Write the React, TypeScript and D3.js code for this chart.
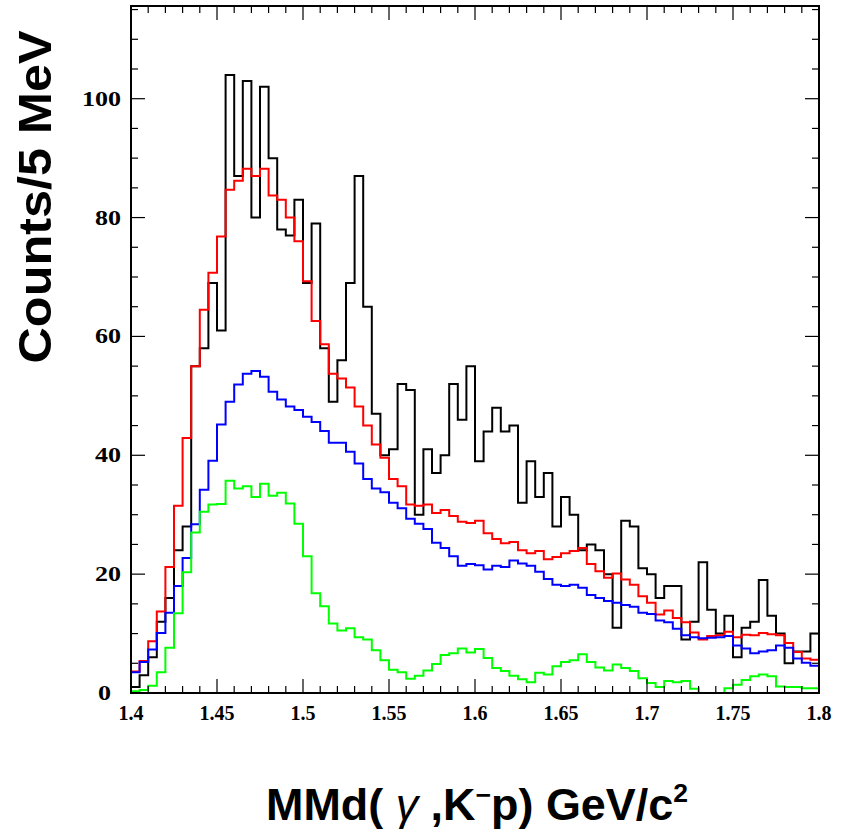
import React from "react";
import * as d3 from "d3";

const binEdgesStart = 1.4;
const binWidth = 0.005;

const dataTotal = [1, 3, 6, 12, 16, 24, 28, 55, 58, 69, 61, 104, 87, 103, 80, 102, 90, 78, 77, 83,
  69, 79, 58, 49, 56, 69, 87, 65, 47, 40, 41, 52, 51, 30, 41, 37, 40, 52, 46, 55,
  39, 44, 48, 44, 45, 32, 39, 33, 37, 28, 33, 30, 24, 25, 24, 20, 11, 29, 28, 21,
  20, 16, 18, 18, 9, 12, 22, 14, 10, 13, 6, 11, 12, 19, 13, 10, 5, 7, 7, 10];

const fitSum = [3.6, 5.4, 8.7, 13.7, 21.2, 31.5, 42.9, 55.0, 64.5, 70.7, 76.8, 84.7, 86.2, 88.2, 87.0, 88.2, 83.7, 83.0, 80.0, 76.0,
  69.3, 62.6, 58.7, 53.7, 52.9, 51.4, 48.2, 45.0, 41.8, 39.6, 36.0, 34.8, 31.7, 31.5, 31.7, 30.3, 30.8, 29.8, 28.8, 28.6,
  29.0, 26.9, 25.9, 25.2, 25.4, 24.0, 23.5, 23.9, 22.5, 22.9, 23.5, 23.9, 24.4, 21.7, 20.5, 19.4, 20.1, 19.1, 18.2, 16.3,
  15.2, 13.2, 13.9, 12.6, 11.9, 10.2, 9.0, 9.6, 9.7, 10.3, 9.4, 9.8, 9.7, 10.1, 9.9, 9.7, 8.4, 6.9, 5.8, 5.6];

const fitBlue = [3.5, 5.2, 7.3, 10.1, 13.5, 18.0, 22.7, 28.4, 34.2, 39.1, 45.2, 49.0, 51.9, 53.7, 54.2, 53.2, 50.7, 49.4, 48.2, 47.6,
  46.5, 45.6, 44.1, 42.1, 42.1, 40.6, 38.6, 36.0, 34.4, 33.8, 32.0, 31.1, 29.3, 28.5, 27.6, 25.3, 24.4, 23.0, 21.4, 21.7,
  21.5, 20.8, 21.4, 21.2, 22.3, 21.8, 21.4, 20.4, 19.2, 18.2, 18.0, 18.2, 17.7, 16.5, 16.0, 15.5, 15.2, 14.8, 14.5, 13.5,
  13.3, 12.2, 11.9, 10.8, 9.7, 9.4, 9.2, 9.3, 9.4, 9.6, 8.0, 7.5, 6.7, 7.0, 7.2, 8.0, 7.6, 5.8, 5.1, 4.6];

const fitGreen = [0.3, 0.5, 1.2, 3.5, 7.6, 13.4, 20.3, 27.0, 30.5, 31.7, 31.8, 35.7, 34.4, 34.8, 33.0, 35.2, 33.2, 33.7, 31.9, 28.5,
  23.0, 16.8, 14.6, 11.7, 10.5, 10.9, 9.4, 9.0, 7.2, 5.5, 3.9, 3.5, 2.4, 2.9, 3.8, 4.9, 6.4, 6.7, 7.5, 6.8,
  7.4, 5.9, 4.2, 3.7, 2.9, 2.3, 1.8, 3.4, 3.1, 4.5, 5.2, 5.5, 6.5, 5.2, 4.3, 3.8, 4.8, 4.2, 3.7, 2.5,
  1.7, 1.0, 2.0, 1.8, 2.0, 0.7, 0.0, 0.0, 0.0, 0.8, 1.4, 2.2, 2.8, 3.1, 2.8, 1.1, 1.0, 1.0, 0.8, 0.8];

const xTickLabels = ["1.4", "1.45", "1.5", "1.55", "1.6", "1.65", "1.7", "1.75", "1.8"];
const yTickLabels = ["0", "20", "40", "60", "80", "100"];

const series = [
  { name: "data", values: dataTotal, color: "#000000" },
  { name: "sum", values: fitSum, color: "#ff0000" },
  { name: "bkg", values: fitBlue, color: "#0000ff" },
  { name: "signal", values: fitGreen, color: "#00ff00" },
];

const W = 841, H = 831;
const L = 131, R = 819, T = 6, B = 693;

export default function App() {
  const x = d3.scaleLinear().domain([1.4, 1.8]).range([L, R]);
  const y = d3.scaleLinear().domain([0, 115.6]).range([B, T]);

  const histPath = (vals: number[]) => {
    const p = d3.path();
    p.moveTo(x(binEdgesStart), y(0));
    vals.forEach((v, i) => {
      const x0 = x(binEdgesStart + i * binWidth);
      const x1 = x(binEdgesStart + (i + 1) * binWidth);
      p.lineTo(x0, y(v));
      p.lineTo(x1, y(v));
    });
    p.lineTo(x(binEdgesStart + vals.length * binWidth), y(0));
    return p.toString();
  };

  const xMinor = d3.range(0, 41).map((i) => 1.4 + i * 0.01);
  const yMinor = d3.range(0, 24).map((i) => i * 5).filter((v) => v <= 115.6);

  return (
    <svg width={W} height={H} style={{ position: "absolute", left: 0, top: 0, background: "#fff" }}>
      <rect x={0} y={0} width={W} height={H} fill="#fff" />
      <g fill="none" strokeLinejoin="miter">
        {series.map((s) => (
          <path key={s.name} d={histPath(s.values)} stroke={s.color} strokeWidth={2} />
        ))}
      </g>
      <g stroke="#000" strokeWidth={1.2}>
        {xMinor.map((v, i) => {
          const major = i % 5 === 0;
          const len = major ? 14 : 7;
          return (
            <g key={"xt" + i}>
              <line x1={x(v)} x2={x(v)} y1={B} y2={B - len} />
              <line x1={x(v)} x2={x(v)} y1={T} y2={T + len} />
            </g>
          );
        })}
        {yMinor.map((v, i) => {
          const major = v % 20 === 0;
          const len = major ? 14 : 7;
          return (
            <g key={"yt" + i}>
              <line x1={L} x2={L + len} y1={y(v)} y2={y(v)} />
              <line x1={R} x2={R - len} y1={y(v)} y2={y(v)} />
            </g>
          );
        })}
      </g>
      <rect x={L} y={T} width={R - L} height={B - T} fill="none" stroke="#000" strokeWidth={2} />
      <g fontFamily="'Liberation Serif', 'DejaVu Serif', serif" fontWeight="bold" fill="#000">
        {xTickLabels.map((t) => (
          <text key={t} x={x(+t)} y={720} textAnchor="middle" fontSize={20}>{t}</text>
        ))}
        {yTickLabels.map((t) => (
          <text key={t} x={t.length === 1 ? 111 : 121} y={y(+t) + 7} textAnchor="end" fontSize={21}
            textLength={t.length * 13} lengthAdjust="spacingAndGlyphs">{t}</text>
        ))}
      </g>
      <text x={477} y={820} textAnchor="middle" fontFamily="'Liberation Sans', Arial, sans-serif" fontWeight="bold" fontSize={44} textLength={422} lengthAdjust="spacingAndGlyphs">
        MMd( <tspan fontStyle="italic" fontWeight="normal">γ</tspan> ,K<tspan dy={-16} fontSize={26}>−</tspan><tspan dy={16}>p) GeV/c</tspan><tspan dy={-18} fontSize={26}>2</tspan>
      </text>
      <text transform="translate(51,197) rotate(-90)" textAnchor="middle" fontFamily="'Liberation Sans', Arial, sans-serif" fontWeight="bold" fontSize={46} textLength={333} lengthAdjust="spacingAndGlyphs">
        Counts/5 MeV
      </text>
    </svg>
  );
}
